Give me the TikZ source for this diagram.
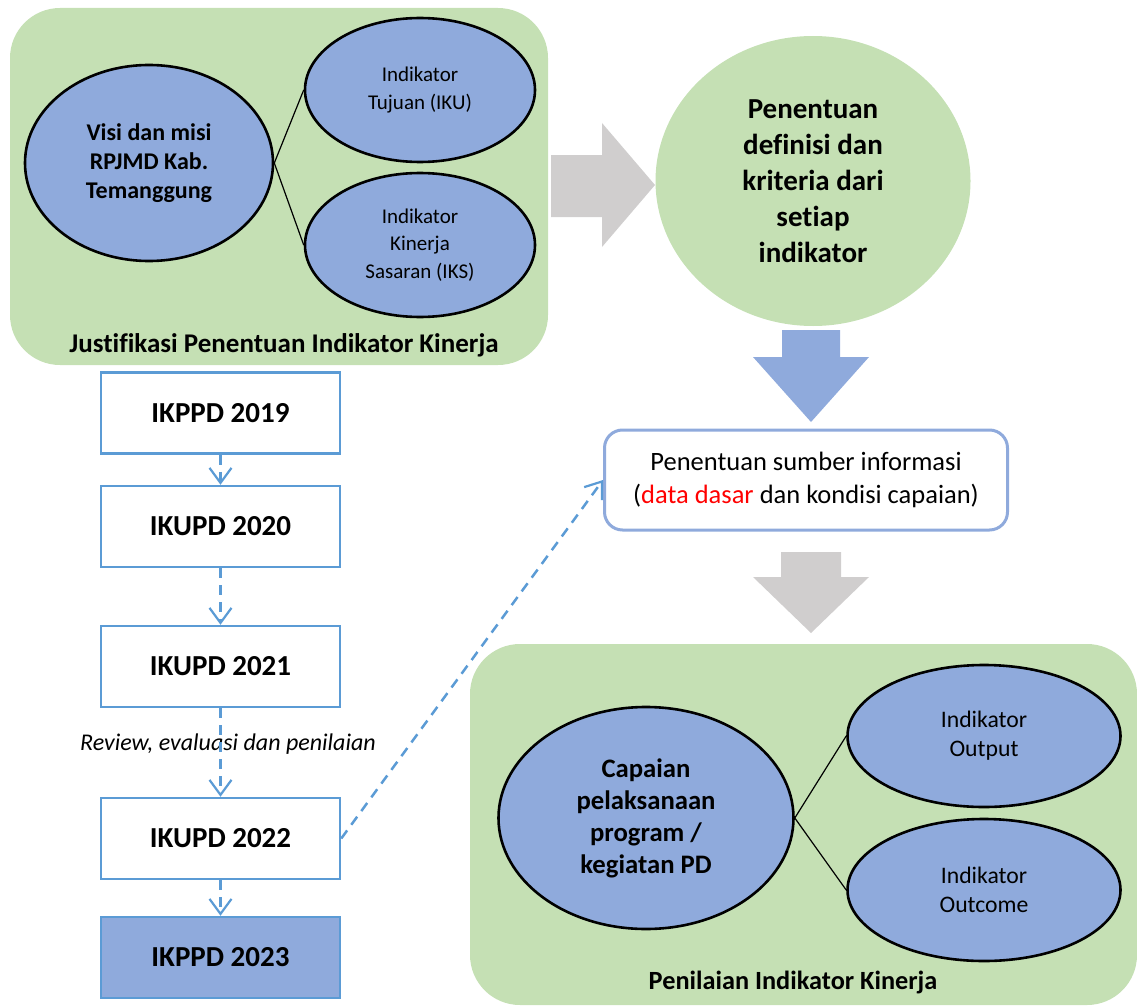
\documentclass[tikz,border=0pt]{standalone}
\usepackage{fontspec}
\setmainfont{Carlito}[Ligatures=CommonOff]
\usetikzlibrary{shapes.geometric,arrows.meta}
\definecolor{leafgreen}{HTML}{C5E0B4}
\definecolor{ovalblue}{HTML}{8FAADC}
\definecolor{linkblue}{HTML}{5B9BD5}
\definecolor{arrowgray}{HTML}{D0CECE}

\begin{document}
\begin{tikzpicture}[x=1pt, y=-1pt,
  oval/.style={ellipse, draw=black, line width=2.6pt, fill=ovalblue, inner sep=0pt, align=center},
  yearbox/.style={rectangle, draw=linkblue, line width=2.5pt, minimum width=239pt, minimum height=81pt,
    font=\fontsize{29}{35}\selectfont\bfseries},
  flow/.style={linkblue, line width=2.5pt, dash pattern=on 10pt off 7pt,
    -{Straight Barb[length=15pt, width=22pt, line width=2.2pt]}},
  tie/.style={line width=1.2pt}]
  \useasboundingbox (0,0) rectangle (1137,1006);
  % (a) justification group: vision and mission split into goal and target indicators
  \fill[leafgreen, rounded corners=50pt] (10,8) rectangle (548,365);
  \node[oval, minimum width=248pt, minimum height=196pt, font=\fontsize{24}{29}\selectfont\bfseries]
    (visi) at (149,163) {Visi dan misi\\RPJMD Kab.\\Temanggung};
  \node[oval, minimum width=230pt, minimum height=144pt, font=\fontsize{21}{27.5}\selectfont]
    (iku) at (420,90) {Indikator\\Tujuan (IKU)};
  \node[oval, minimum width=230pt, minimum height=144pt, font=\fontsize{21}{27.5}\selectfont]
    (iks) at (420,245) {Indikator\\Kinerja\\Sasaran (IKS)};
  \draw[tie] (visi.east) -- (iku.west);
  \draw[tie] (visi.east) -- (iks.west);
  \node[font=\fontsize{27}{32}\selectfont\bfseries] (justlbl) at (284,345) {Justifikasi Penentuan Indikator Kinerja};
  % (b) right column: definitions, sources of information, then the assessment
  \fill[arrowgray] (551,155) -- (602,155) -- (602,123) -- (655,185) -- (602,247) -- (602,217) -- (551,217) -- cycle;
  \node[ellipse, fill=leafgreen, minimum width=315pt, minimum height=290pt, inner sep=0pt, align=center,
    font=\fontsize{29}{36}\selectfont\bfseries]
    (defn) at (813,181) {Penentuan\\definisi dan\\kriteria dari\\setiap\\indikator};
  \fill[ovalblue] (782,330) -- (840,330) -- (840,357) -- (869,357) -- (811,422) -- (753,357) -- (782,357) -- cycle;
  \node[rectangle, rounded corners=18pt, draw=ovalblue, line width=3pt, fill=white, minimum width=403pt,
    minimum height=100pt, align=center, font=\fontsize{26.5}{33}\selectfont]
    (sumber) at (806,480) {Penentuan sumber informasi\\(\textcolor{red}{data dasar} dan kondisi capaian)};
  \fill[arrowgray] (781,552) -- (841,552) -- (841,577) -- (869,577) -- (811,633) -- (753,577) -- (781,577) -- cycle;
  \fill[leafgreen, rounded corners=50pt] (470,644) rectangle (1137,1005);
  \node[oval, minimum width=295pt, minimum height=222pt, font=\fontsize{26.7}{32}\selectfont\bfseries]
    (capaian) at (646,818) {Capaian\\pelaksanaan\\program /\\kegiatan PD};
  \node[oval, minimum width=273pt, minimum height=142pt, font=\fontsize{23.7}{29}\selectfont]
    (output) at (984,736) {Indikator\\Output};
  \node[oval, minimum width=273pt, minimum height=142pt, font=\fontsize{23.7}{29}\selectfont]
    (outcome) at (984,890) {Indikator\\Outcome};
  \draw[tie] (capaian.east) -- (output.west);
  \draw[tie] (capaian.east) -- (outcome.west);
  \node[font=\fontsize{26.3}{32}\selectfont\bfseries] (nilailbl) at (793,982) {Penilaian Indikator Kinerja};
  % (c) left column: the yearly indicator sets, reviewed from one year to the next
  \foreach \nm/\txt/\yc in {k19/IKPPD 2019/413, k20/IKUPD 2020/526.5, k21/IKUPD 2021/666.5, k22/IKUPD 2022/838.5}
    \node[yearbox] (\nm) at (220.5,\yc) {\txt};
  \node[yearbox, fill=ovalblue] (k23) at (220.5,957.5) {IKPPD 2023};
  \node[font=\fontsize{24}{29}\selectfont\itshape] (revlbl) at (228,744) {Review, evaluasi dan penilaian};
  \foreach \a/\b in {k19/k20, k20/k21, k21/k22, k22/k23}
    \draw[flow] (\a) -- (\b);
  \draw[flow] (k22.east) -- (sumber.west);
\end{tikzpicture}
\end{document}
